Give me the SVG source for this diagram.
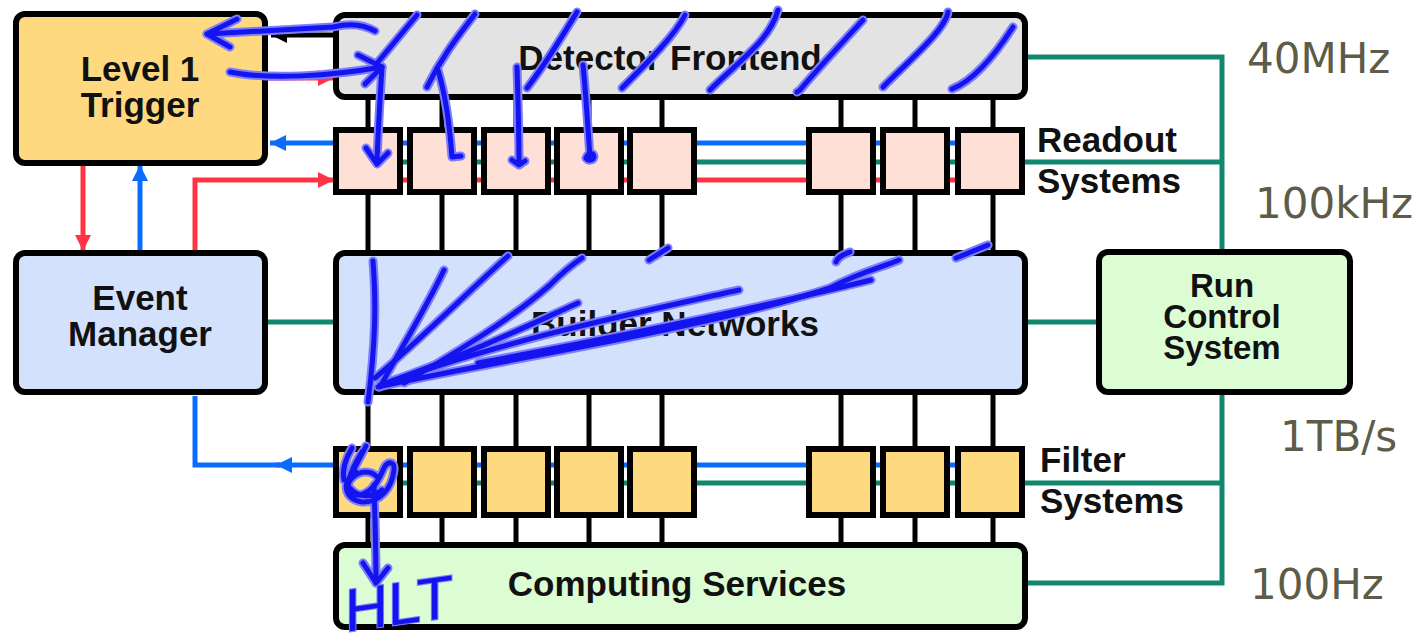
<svg xmlns="http://www.w3.org/2000/svg" xmlns:xlink="http://www.w3.org/1999/xlink" width="1421" height="642" viewBox="0 0 1421 642">
<defs>
<style>
.box{stroke:#000;stroke-width:6}
.big{stroke:#000;stroke-width:6}
.lbl{font-family:"Liberation Sans",Arial,sans-serif;font-weight:bold;font-size:35px;fill:#111}
.rc{font-size:33px}
.mid{text-anchor:middle}
.freq{font-family:"DejaVu Sans",Verdana,sans-serif;font-size:42px;fill:#5c5c48}
.red{stroke:#ff3344;stroke-width:5;fill:none}
.blue{stroke:#0a6cff;stroke-width:5;fill:none}
.teal{stroke:#12876f;stroke-width:5;fill:none}
.blk{stroke:#000;stroke-width:5;fill:none}
.halo{stroke:#7d7dff;stroke-width:9;fill:none;stroke-linecap:round;stroke-linejoin:round}
.ink{stroke:#1414ee;stroke-width:5;fill:none;stroke-linecap:round;stroke-linejoin:round}
.yel{fill:#fed97f}
.gry{fill:#e3e3e3}
.pch{fill:#ffe0d6}
.lbl2{fill:#d3e1fc}
.grn{fill:#dcfcd4}
</style>
<marker id="ar" markerUnits="userSpaceOnUse" markerWidth="17" markerHeight="17" refX="16" refY="8" orient="auto"><path d="M0,0 L16,8 L0,16 z" fill="#ff3344"/></marker>
<marker id="ab" markerUnits="userSpaceOnUse" markerWidth="17" markerHeight="17" refX="16" refY="8" orient="auto"><path d="M0,0 L16,8 L0,16 z" fill="#0a6cff"/></marker>
<marker id="ak" markerUnits="userSpaceOnUse" markerWidth="17" markerHeight="17" refX="16" refY="8" orient="auto"><path d="M0,0 L16,8 L0,16 z" fill="#000"/></marker>
<g id="scribbles">
<path d="M375,31 C360,22 345,24 333,27 L207,34"/>
<path d="M237,19 L207,34 L230,47"/>
<path d="M230,72 C270,80 330,76 382,67"/>
<path d="M358,55 L382,67 L365,84"/>
<path d="M382,67 C380,100 378,130 377,163"/>
<path d="M366,148 L377,164 L388,153"/>
<path d="M417,15 L378,62"/>
<path d="M475,14 C455,40 440,60 427,87"/>
<path d="M438,70 C447,100 450,130 452,157 L461,156"/>
<path d="M577,12 C560,40 545,65 527,88"/>
<path d="M517,67 C518,100 519,130 519,163 M512,160 L519,165 L525,161"/>
<path d="M583,65 C586,95 588,130 590,157 M586,158 C588,152 594,152 594,157 C593,161 588,161 586,158"/>
<path d="M685,15 C675,35 650,60 622,88"/>
<path d="M778,10 C770,40 740,60 710,90"/>
<path d="M863,20 C840,45 815,72 800,90 L797,92"/>
<path d="M948,12 C945,30 910,60 883,87"/>
<path d="M1013,27 C995,55 975,80 952,89"/>
<path d="M373,261 C376,300 376,340 368,402"/>
<path d="M444,270 C425,310 400,350 380,387"/>
<path d="M508,256 C470,290 420,340 375,378"/>
<path d="M582,258 C570,266 560,275 550,285 C510,320 460,350 404,383"/>
<path d="M578,303 C540,320 480,350 380,385"/>
<path d="M739,290 C650,310 500,340 378,387"/>
<path d="M899,260 C880,268 860,272 830,288 C700,330 500,360 382,386"/>
<path d="M871,280 C750,310 600,340 478,363"/>
<path d="M649,260 L668,248"/>
<path d="M836,262 C838,256 845,254 850,252"/>
<path d="M956,258 L988,245"/>
<path d="M352,448 C346,458 342,470 344,480"/>
<path d="M366,446 C360,458 354,468 350,478"/>
<path d="M362,452 C356,462 350,472 348,484"/>
<path d="M356,472 C340,482 345,500 362,502 C380,503 392,488 394,470 C395,462 388,460 384,468 C378,482 372,492 360,495 C348,496 345,485 352,478 C360,470 372,470 378,478"/>
<path d="M350,488 C358,498 372,498 382,490"/>
<path d="M374,485 C375,520 376,550 376,583"/>
<path d="M363,563 L376,583 L388,568"/>
</g>
</defs>
<rect width="1421" height="642" fill="#fff"/>

<g id="connectors">
<path class="blk" d="M368,100 V130 M442,100 V130 M516,100 V130 M589,100 V130 M662,100 V130 M841,100 V130 M915,100 V130 M993,100 V130"/>
<path class="blk" d="M368,192 V253 M442,192 V253 M516,192 V253 M589,192 V253 M662,192 V253 M841,192 V253 M915,192 V253 M993,192 V253"/>
<path class="blk" d="M368,392 V449 M442,392 V449 M516,392 V449 M589,392 V449 M662,392 V449 M841,392 V449 M915,392 V449 M993,392 V449"/>
<path class="blk" d="M368,515 V545 M442,515 V545 M516,515 V545 M589,515 V545 M662,515 V545 M841,515 V545 M915,515 V545 M993,515 V545"/>
<path class="blue" d="M333,143 H1000"/>
<path class="teal" d="M340,162 H1222"/>
<path class="red" d="M333,180 H1000"/>
<path class="blue" d="M333,465 H1000"/>
<path class="teal" d="M340,483 H1222"/>
<path class="blk" d="M336,35 H271" marker-end="url(#ak)"/>
<path class="red" d="M268,78 H334" marker-end="url(#ar)"/>
<path class="blue" d="M336,143 H270" marker-end="url(#ab)"/>
<path class="red" d="M83,166 V251" marker-end="url(#ar)"/>
<path class="blue" d="M140,250 V165" marker-end="url(#ab)"/>
<path class="red" d="M195,250 V180 H334" marker-end="url(#ar)"/>
<path class="blue" d="M336,465 H276" marker-end="url(#ab)"/>
<path class="blue" d="M280,465 H195 V396"/>
<path class="teal" d="M1026,57 H1222 V252"/>
<path class="teal" d="M1222,392 V583 H1026"/>
<path class="teal" d="M1026,322 H1099"/>
<path class="teal" d="M266,322 H336"/>
</g>

<g id="level1-trigger">
<rect class="big yel" x="16" y="14" width="249" height="149" rx="9"/>
<text class="lbl mid" x="140" y="81">Level 1</text>
<text class="lbl mid" x="140" y="117">Trigger</text>
</g>
<g id="detector-frontend">
<rect class="big gry" x="336" y="15" width="689" height="82" rx="9"/>
<text class="lbl mid" x="670" y="70">Detector Frontend</text>
</g>
<g id="readout-systems">
<rect class="box pch" x="336" y="130" width="64" height="62"/>
<rect class="box pch" x="410" y="130" width="64" height="62"/>
<rect class="box pch" x="484" y="130" width="64" height="62"/>
<rect class="box pch" x="557" y="130" width="64" height="62"/>
<rect class="box pch" x="630" y="130" width="64" height="62"/>
<rect class="box pch" x="809" y="130" width="64" height="62"/>
<rect class="box pch" x="883" y="130" width="64" height="62"/>
<rect class="box pch" x="958" y="130" width="64" height="62"/>
<text class="lbl" x="1037" y="152">Readout</text>
<text class="lbl" x="1037" y="193">Systems</text>
</g>
<g id="event-manager">
<rect class="big lbl2" x="16" y="253" width="249" height="139" rx="9"/>
<text class="lbl mid" x="140" y="310">Event</text>
<text class="lbl mid" x="140" y="346">Manager</text>
</g>
<g id="builder-networks">
<rect class="big lbl2" x="336" y="253" width="689" height="139" rx="9"/>
<text class="lbl mid" x="675" y="336">Builder Networks</text>
</g>
<g id="run-control-system">
<rect class="big grn" x="1099" y="252" width="251" height="140" rx="9"/>
<text class="lbl rc mid" x="1222" y="297">Run</text>
<text class="lbl rc mid" x="1222" y="328">Control</text>
<text class="lbl rc mid" x="1222" y="359">System</text>
</g>
<g id="filter-systems">
<rect class="box yel" x="336" y="449" width="64" height="66"/>
<rect class="box yel" x="410" y="449" width="64" height="66"/>
<rect class="box yel" x="484" y="449" width="64" height="66"/>
<rect class="box yel" x="557" y="449" width="64" height="66"/>
<rect class="box yel" x="630" y="449" width="64" height="66"/>
<rect class="box yel" x="809" y="449" width="64" height="66"/>
<rect class="box yel" x="883" y="449" width="64" height="66"/>
<rect class="box yel" x="958" y="449" width="64" height="66"/>
<text class="lbl" x="1040" y="472">Filter</text>
<text class="lbl" x="1040" y="513">Systems</text>
</g>
<g id="computing-services">
<rect class="big grn" x="336" y="545" width="689" height="82" rx="9"/>
<text class="lbl mid" x="677" y="596">Computing Services</text>
</g>
<g id="rates">
<text class="freq" x="1247" y="73">40MHz</text>
<text class="freq" x="1255" y="218">100kHz</text>
<text class="freq" x="1280" y="451">1TB/s</text>
<text class="freq" x="1250" y="599">100Hz</text>
</g>
<g id="annotations">
<use xlink:href="#scribbles" class="halo"/>
<use xlink:href="#scribbles" class="ink"/>
<text x="0" y="0" transform="translate(345 632) rotate(-8) skewX(-8)" font-family="Liberation Sans, Arial, sans-serif" font-size="60" fill="#1414ee" stroke="#7d7dff" stroke-width="2" paint-order="stroke">HLT</text>
</g>
</svg>
